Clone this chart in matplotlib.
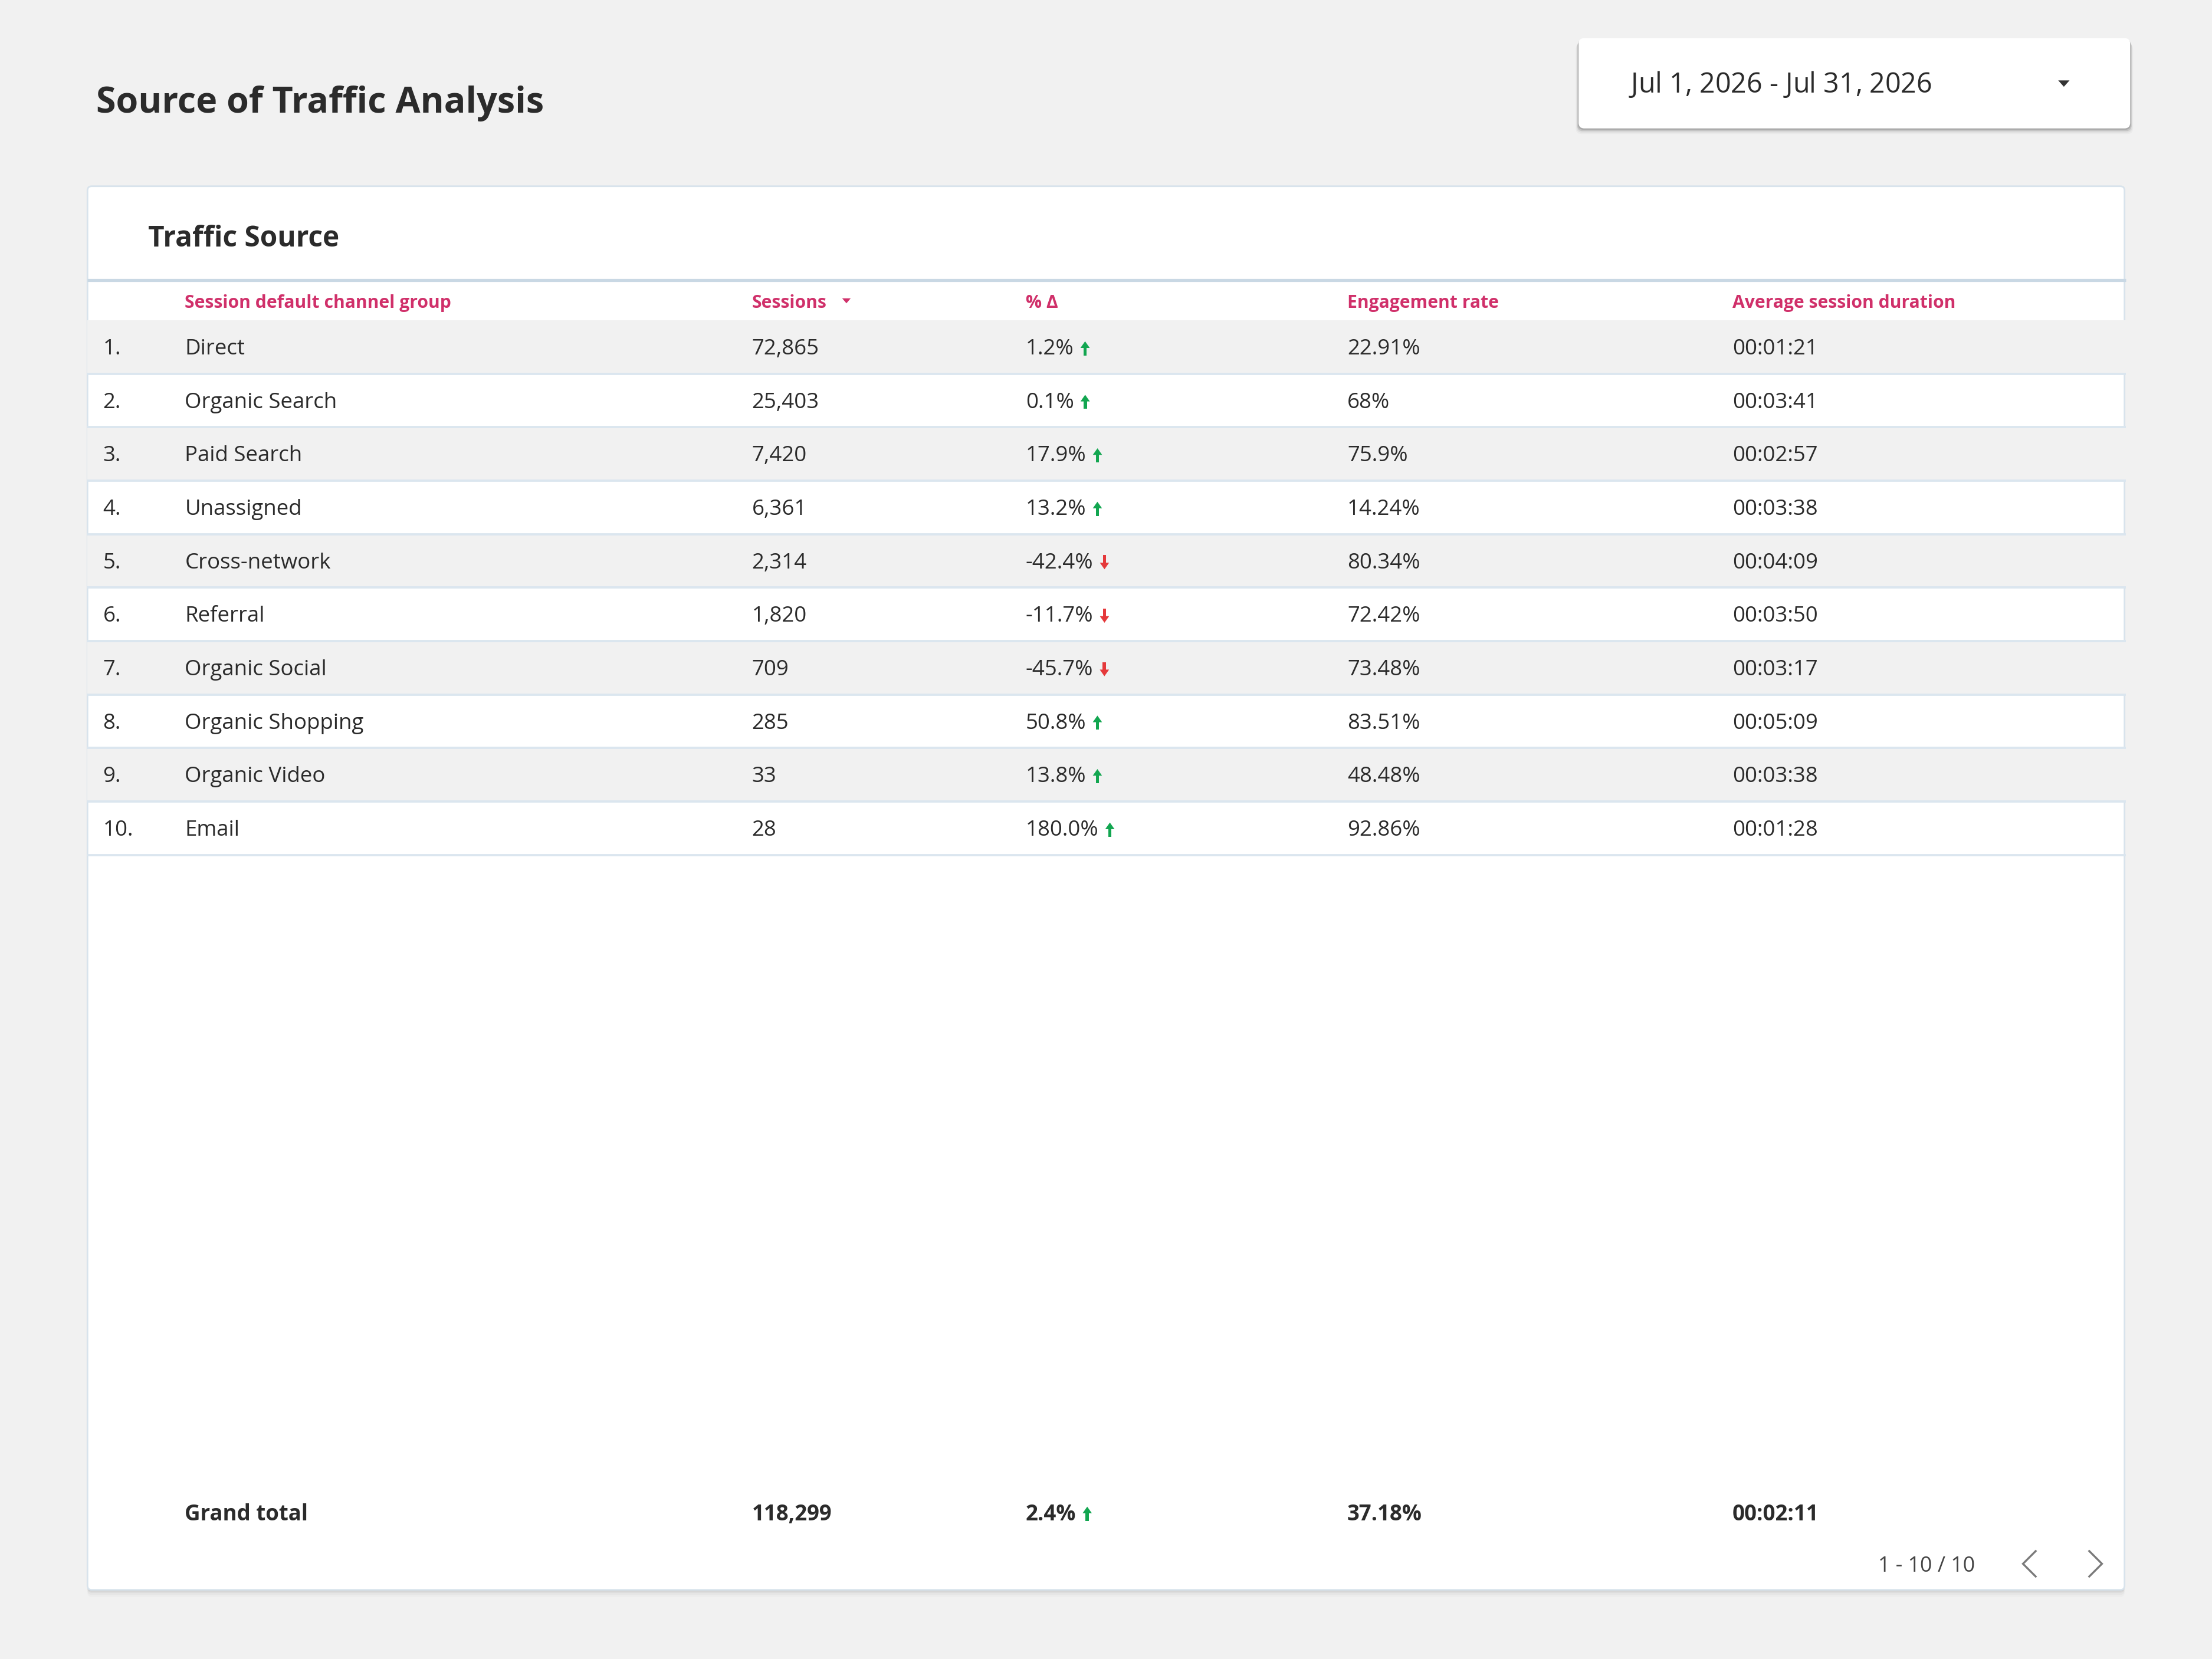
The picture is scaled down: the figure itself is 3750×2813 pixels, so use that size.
import matplotlib
matplotlib.use("Agg")
import matplotlib.pyplot as plt
from matplotlib.patches import FancyBboxPatch, Rectangle, Polygon
from matplotlib import font_manager


# table data

channels = ['Direct', 'Organic Search', 'Paid Search', 'Unassigned', 'Cross-network',
            'Referral', 'Organic Social', 'Organic Shopping', 'Organic Video', 'Email']
sessions = [72865, 25403, 7420, 6361, 2314, 1820, 709, 285, 33, 28]
pct_change = [1.2, 0.1, 17.9, 13.2, -42.4, -11.7, -45.7, 50.8, 13.8, 180.0]
engagement = [22.91, 68, 75.9, 14.24, 80.34, 72.42, 73.48, 83.51, 48.48, 92.86]
durations = ['00:01:21', '00:03:41', '00:02:57', '00:03:38', '00:04:09',
             '00:03:50', '00:03:17', '00:05:09', '00:03:38', '00:01:28']

total_sessions = 118299
total_pct = 2.4
total_engagement = 37.18
total_duration = '00:02:11'

col_headers = ['Session default channel group', 'Sessions', '% Δ',
               'Engagement rate', 'Average session duration']

date_range = 'Jul 1, 2026 - Jul 31, 2026'


# canvas in "screen" units (1568 x 1176), saved at 3750 x 2813

W, H = 1568, 1176
DPI = 250
PX = 3750 / W * 72 / DPI   # font points per screen unit

fig = plt.figure(figsize=(3750 / DPI, 2813 / DPI), dpi=DPI)
fig.patch.set_facecolor('#f1f1f1')
ax = fig.add_axes([0, 0, 1, 1])
ax.set_xlim(0, W)
ax.set_ylim(H, 0)
ax.axis('off')

dark = '#2b2b2b'
pink = '#d0306a'
green = '#12a650'
red = '#e5393b'
sep = '#dbe6ef'

body = 'Open Sans'
body_fs = 15.3
dy = 1.5   # small nudge, va='center' sits a bit high


def rbox(x0, y0, x1, y1, fc, ec='none', r=4, lw=0, z=1, alpha=1):
    p = FancyBboxPatch((x0, y0), x1 - x0, y1 - y0,
                       boxstyle="round,pad=0,rounding_size=%g" % r,
                       fc=fc, ec=ec, lw=lw, zorder=z, alpha=alpha)
    ax.add_patch(p)


def spaced_text(x, y, s, size_px, spacing, **kw):
    # draws text char by char with extra letter spacing (screen units)
    prop = font_manager.FontProperties(family=body)
    font = font_manager.get_font(font_manager.findfont(prop))
    font.set_size(size_px * PX, DPI)
    scale = W / 3750
    for ch in s:
        ax.text(x, y, ch, fontsize=size_px * PX, family=body, ha='left', **kw)
        g = font.load_char(ord(ch))
        x += g.linearHoriAdvance / 65536 * scale + spacing


# page title
ax.text(68, 72 + dy, 'Source of Traffic Analysis', fontsize=25.5 * PX, fontweight='bold',
        family=body, color=dark, va='center', ha='left')

# date range box with shadow
for d, a in [(4, 0.06), (3, 0.10), (2, 0.25), (1, 0.35)]:
    rbox(1119 - d / 2, 27 + d, 1510 + d / 2, 91 + d, '#7a7a7a', z=2, alpha=a)
rbox(1119, 27, 1510, 91, 'white', z=3)
spaced_text(1156, 59 + dy, date_range, 19.5, 0.0, color=dark, va='center', zorder=4)
ax.add_patch(Polygon([[1459, 57], [1467, 57], [1463, 61.5]], closed=True,
                     fc='#333333', ec='none', zorder=4))

# card with shadow
for d, a in [(5, 0.04), (3.5, 0.07), (2, 0.12), (1, 0.18)]:
    rbox(62, 132 + d, 1506, 1127 + d, '#8a8a8a', z=2, alpha=a, r=3)
rbox(62, 132, 1506, 1127, 'white', ec='#d8e3ec', lw=0.8, z=3, r=3)

ax.text(105, 168 + dy, 'Traffic Source', fontsize=20 * PX, fontweight='bold',
        family=body, color=dark, va='center', ha='left', zorder=5)
ax.plot([62, 1507], [198.5, 198.5], color='#c9d8e4', lw=2.2 * PX, zorder=5,
        solid_capstyle='butt')

# column headers
col_x = [131, 533, 727, 955, 1228]
for x, lab in zip(col_x, col_headers):
    ax.text(x, 213.5 + dy, lab, fontsize=12.6 * PX, fontweight='bold', family=body,
            color=pink, va='center', ha='left', zorder=5)
ax.add_patch(Polygon([[597, 211.5], [603, 211.5], [600, 215]], closed=True,
                     fc=pink, ec='none', zorder=5))

# rows
row0 = 227
row_h = 37.9
pct_texts = []
for i in range(len(channels)):
    top = row0 + i * row_h
    cy = top + row_h / 2
    if i % 2 == 0:
        ax.add_patch(Rectangle((62, top), 1446, row_h, fc='#f1f1f1', ec='none', zorder=4))
    ax.plot([62, 1507], [top + row_h, top + row_h], color=sep, lw=1.6 * PX, zorder=5,
            solid_capstyle='butt')
    kw = dict(fontsize=body_fs * PX, family=body, color=dark, va='center', ha='left', zorder=6)
    ty = cy + dy
    ax.text(73, ty, '%d.' % (i + 1), **kw)
    ax.text(col_x[0], ty, channels[i], **kw)
    ax.text(col_x[1], ty, '{:,}'.format(sessions[i]), **kw)
    t = ax.text(col_x[2], ty, '{:.1f}%'.format(pct_change[i]), **kw)
    pct_texts.append((t, pct_change[i], cy + 1))
    ax.text(col_x[3], ty, '{:g}%'.format(engagement[i]), **kw)
    ax.text(col_x[4], ty, durations[i], **kw)

# grand total
gy = 1072
kw = dict(fontsize=body_fs * PX, family=body, fontweight='bold', color=dark,
          va='center', ha='left', zorder=6)
ax.text(col_x[0], gy + dy, 'Grand total', **kw)
ax.text(col_x[1], gy + dy, '{:,}'.format(total_sessions), **kw)
t = ax.text(col_x[2], gy + dy, '{:.1f}%'.format(total_pct), **kw)
pct_texts.append((t, total_pct, gy + 1))
ax.text(col_x[3], gy + dy, '{:g}%'.format(total_engagement), **kw)
ax.text(col_x[4], gy + dy, total_duration, **kw)

# pagination
ax.text(1400, 1109 + dy, '1 - 10 / 10', fontsize=15 * PX, family=body, color='#444444',
        va='center', ha='right', zorder=6)
ax.plot([1443, 1434, 1443], [1099.5, 1108.5, 1117.5], color='#7a7a7a', lw=1.4 * PX,
        zorder=6, solid_joinstyle='miter')
ax.plot([1481, 1490, 1481], [1099.5, 1108.5, 1117.5], color='#7a7a7a', lw=1.4 * PX,
        zorder=6, solid_joinstyle='miter')

# up / down arrows after the % change values
fig.canvas.draw()
renderer = fig.canvas.get_renderer()
inv = ax.transData.inverted()
for t, v, cy in pct_texts:
    bb = t.get_window_extent(renderer)
    x_end = inv.transform((bb.x1, bb.y0))[0]
    xa = x_end + 8
    c = green if v >= 0 else red
    s = 1 if v >= 0 else -1
    y_a, y_b = cy - s, cy + 5 * s
    ax.add_patch(Rectangle((xa - 1.2, min(y_a, y_b)), 2.4, 6, fc=c, ec='none', zorder=7))
    tip = cy - 5 * s
    base = cy - 0.3 * s
    ax.add_patch(Polygon([[xa, tip], [xa - 3.3, base], [xa + 3.3, base]],
                         closed=True, fc=c, ec='none', zorder=7))

fig.savefig('out.png', dpi=DPI, facecolor=fig.get_facecolor())
